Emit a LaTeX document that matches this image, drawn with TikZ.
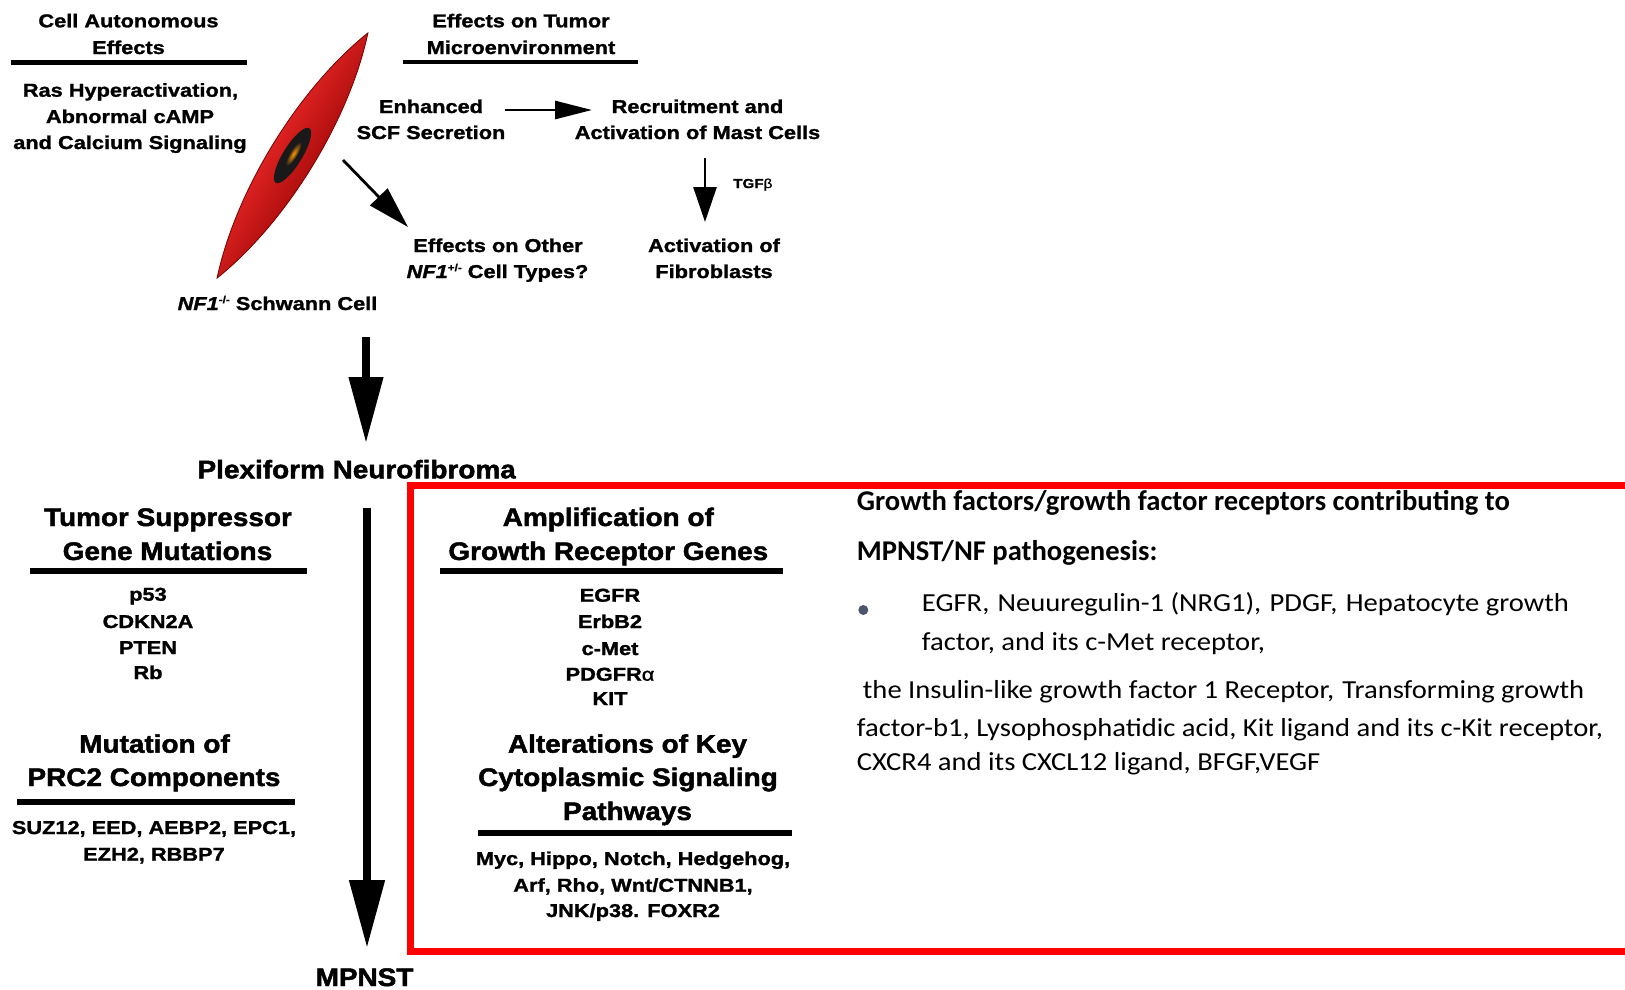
\documentclass[tikz,border=0pt]{standalone}
\usepackage{fontspec}
\usetikzlibrary{arrows.meta}
\newfontfamily\fsm{Liberation Sans}[FakeStretch=1.17, FakeBold=1.4]
\newfontfamily\fhd{Liberation Sans}[FakeStretch=1.1, FakeBold=1.8]
\newfontfamily\fcal{Carlito}
\newfontfamily\fcalr{Carlito}[FakeStretch=1.1]
\newcommand\wsp{\hspace*{0.07em}}
\definecolor{cellLight}{RGB}{228,36,36}
\definecolor{cellMid}{RGB}{236,48,48}
\definecolor{cellDeep}{RGB}{170,12,12}
\definecolor{cellEdge}{RGB}{120,0,0}
\definecolor{bulletgray}{RGB}{75,85,110}
\begin{document}
\begin{tikzpicture}[x=1pt,y=-1pt,
  tsm/.style={font=\fsm\bfseries\fontsize{18.6}{22}\selectfont, anchor=base, inner sep=0pt},
  thd/.style={font=\fhd\bfseries\fontsize{25.4}{30}\selectfont, anchor=base, inner sep=0pt},
  rbold/.style={font=\fcal\bfseries\fontsize{28.6}{34}\selectfont, anchor=base west, inner sep=0pt},
  rreg/.style={font=\fcalr\fontsize{26}{32}\selectfont, anchor=base west, inner sep=0pt},
  rule/.style={line width=4.5pt},
  bigrule/.style={line width=6pt},
  thinarrow/.style={line width=2.8pt, -{Triangle[length=37pt,width=18pt]}},
  fatarrow/.style={line width=7.5pt, -{Triangle[length=66pt,width=33pt]}}
]
\useasboundingbox (0,0) rectangle (1625,989);

% ---------- the Schwann cell (spindle with nucleus) ----------
\begin{scope}[transform canvas={shift={(292.5,155.5)}, rotate=58.4}]
  \shadedraw[top color=cellLight, middle color=cellMid, bottom color=cellDeep,
             draw=cellEdge, line width=0.8pt]
    (-144,0) .. controls (-60,30) and (60,30) .. (144,0)
             .. controls (60,-30) and (-60,-30) .. cycle;
  \fill[black!90] (0,0) ellipse [x radius=32, y radius=9.5];
  \shade[inner color=orange!80!yellow, outer color=black!90] (2,0) ellipse [x radius=14, y radius=4];
\end{scope}

% ---------- cell autonomous effects ----------
\node[tsm] (ca1) at (128.5,27.3) {Cell Autonomous};
\node[tsm] (ca2) at (128.5,54) {Effects};
\draw[rule] (10.7,62.3) -- (246.7,62.3);
\node[tsm] (ras1) at (130.5,96.7) {Ras Hyperactivation,};
\node[tsm] (ras2) at (130,123) {Abnormal cAMP};
\node[tsm] (ras3) at (130,149) {and Calcium Signaling};
\node[tsm] (nf1) at (277.5,310) {\itshape NF1\upshape\raisebox{7pt}{\fontsize{10}{10}\selectfont -/-} Schwann Cell};

% ---------- effects on the tumor microenvironment ----------
\node[tsm] (et1) at (521,27.3) {Effects on Tumor};
\node[tsm] (et2) at (521,54) {Microenvironment};
\draw[rule] (403,62) -- (638,62);
\node[tsm] (enh1) at (431,113) {Enhanced};
\node[tsm] (enh2) at (431,139) {SCF Secretion};
\node[tsm] (rec1) at (697.5,113) {Recruitment and};
\node[tsm] (rec2) at (697.5,139) {Activation of Mast Cells};
\node[tsm] (eo1) at (498,252) {Effects on Other};
\node[tsm] (eo2) at (497.5,278) {\itshape NF1\upshape\raisebox{7pt}{\fontsize{10}{10}\selectfont +/-} Cell Types?};
\node[tsm] (af1) at (714,252) {Activation of};
\node[tsm] (af2) at (714,278) {Fibroblasts};
\node[font=\fsm\bfseries\fontsize{13}{15}\selectfont, anchor=base west, inner sep=0pt] (tgf) at (733,188) {TGF\mdseries β};

\coordinate (scfOut) at (505,110);
\coordinate (mastIn) at (592,110);
\coordinate (mastOut) at (705,158);
\coordinate (fibIn) at (705,222);
\coordinate (cellOut) at (343,160);
\coordinate (otherIn) at (408,227);
\draw[thinarrow] (scfOut) -- (mastIn);
\draw[line width=2.8pt, -{Triangle[length=35pt,width=23pt]}] (mastOut) -- (fibIn);
\draw[line width=2.8pt, -{Triangle[length=42pt,width=24pt]}] (cellOut) -- (otherIn);

% ---------- progression ----------
\coordinate (cellDown) at (366,337);
\coordinate (plexIn) at (366,443);
\draw[fatarrow] (cellDown) -- (plexIn);
\node[thd] (plex) at (356.7,478.3) {Plexiform Neurofibroma};
\coordinate (plexDown) at (367,508);
\coordinate (mpnstIn) at (367,948);
\draw[line width=8pt, -{Triangle[length=68pt,width=34pt]}] (plexDown) -- (mpnstIn);
\node[thd] (mpnst) at (364.5,986) {MPNST};

% ---------- tumor suppressor genes ----------
\node[thd] (ts1) at (168,526) {Tumor Suppressor};
\node[thd] (ts2) at (167.5,560) {Gene Mutations};
\draw[bigrule] (30,570.7) -- (307,570.7);
\node[tsm] (g1) at (148,600.7) {p53};
\node[tsm] (g2) at (148,628) {CDKN2A};
\node[tsm] (g3) at (148,654) {PTEN};
\node[tsm] (g4) at (148,679) {Rb};

% ---------- PRC2 ----------
\node[thd] (mp1) at (154.5,752.7) {Mutation of};
\node[thd] (mp2) at (154,786) {PRC2 Components};
\draw[bigrule] (17,801.7) -- (295,801.7);
\node[tsm] (p1) at (154,834) {SUZ12, EED, AEBP2, EPC1,};
\node[tsm] (p2) at (154,860.7) {EZH2, RBBP7};

% ---------- highlighted box ----------
\draw[red, line width=7pt] (410,485) rectangle (1640,951);

\node[thd] (am1) at (608.3,526) {Amplification of};
\node[thd] (am2) at (608.3,560) {Growth Receptor Genes};
\draw[bigrule] (440,570.7) -- (783,570.7);
\node[tsm] (r1) at (610,601.7) {EGFR};
\node[tsm] (r2) at (610,628) {ErbB2};
\node[tsm] (r3) at (610,655) {c-Met};
\node[tsm] (r4) at (610,680.7) {PDGFR\mdseries α};
\node[tsm] (r5) at (610,705) {KIT};

\node[thd] (al1) at (627.5,752.7) {Alterations of Key};
\node[thd] (al2) at (628,786) {Cytoplasmic Signaling};
\node[thd] (al3) at (627.5,820) {Pathways};
\draw[bigrule] (478,833.3) -- (791.7,833.3);
\node[tsm] (s1) at (633,865) {Myc, Hippo, Notch, Hedgehog,};
\node[tsm] (s2) at (633,891.7) {Arf, Rho, Wnt/CTNNB1,};
\node[tsm] (s3) at (633,917) {JNK/p38. FOXR2};

% ---------- growth factor list ----------
\node[rbold] (gf1) at (856.7,510.7) {Growth factors/growth factor receptors contributing to};
\node[rbold] (gf2) at (856.7,560) {MPNST/NF pathogenesis:};
\fill[bulletgray] (863.3,610) circle (5);
\node[rreg] (b1) at (921.7,611.7) {EGFR,\wsp{} Neuuregulin-1 (NRG1),\wsp{} PDGF,\wsp{} Hepatocyte growth};
\node[rreg] (b2) at (921.7,650) {factor, and its c-Met receptor,};
\node[rreg] (b3) at (862.7,698.3) {the Insulin-like growth factor 1 Receptor,\wsp{} Transforming growth};
\node[rreg] (b4) at (856.7,736.7) {factor-b1, Lysophosphatidic acid, Kit ligand and its c-Kit receptor,};
\node[rreg] (b5) at (856.7,770) {CXCR4 and its CXCL12 ligand, BFGF,VEGF};
\end{tikzpicture}
\end{document}
